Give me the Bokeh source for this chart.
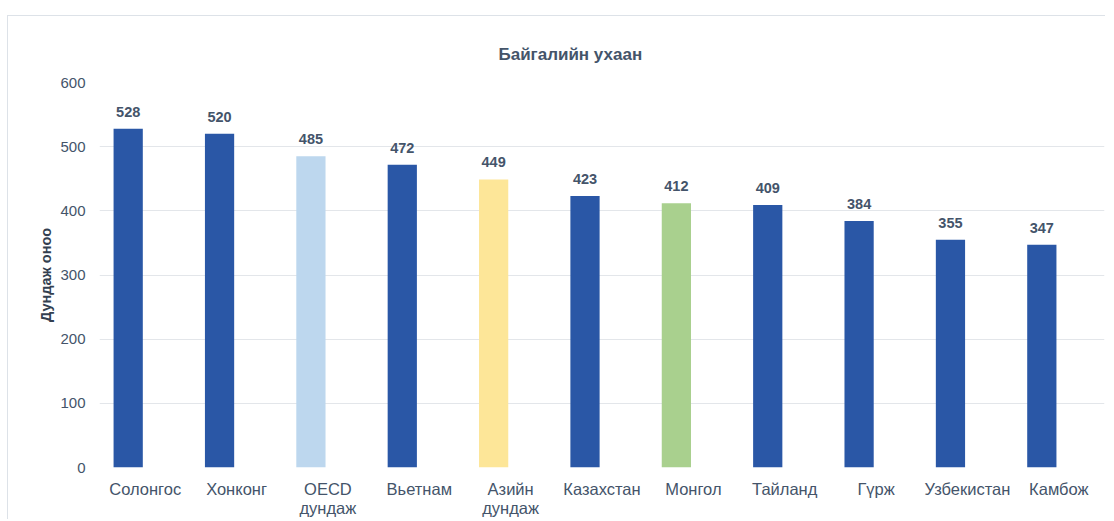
from bokeh.plotting import figure
from bokeh.models import ColumnDataSource, FixedTicker, Range1d
from bokeh.transform import dodge
from bokeh.core.properties import value
from bokeh.embed import file_html
from bokeh.resources import INLINE

categories = ["Солонгос", "Хонконг", "OECD\nдундаж", "Вьетнам", "Азийн\nдундаж",
              "Казахстан", "Монгол", "Тайланд", "Гүрж", "Узбекистан", "Камбож"]
scores = [528, 520, 485, 472, 449, 423, 412, 409, 384, 355, 347]
colors = ["#2a57a6", "#2a57a6", "#bdd7ee", "#2a57a6", "#fde698",
          "#2a57a6", "#a9d08e", "#2a57a6", "#2a57a6", "#2a57a6", "#2a57a6"]
y_ticks = [0, 100, 200, 300, 400, 500, 600]
title_text = "Байгалийн ухаан"
y_title = "Дундаж оноо"

FONT = "Liberation Sans"
TXT = "#44546a"

src = ColumnDataSource(dict(cat=categories, score=scores, color=colors,
                            label=[str(s) for s in scores]))

p = figure(x_range=categories, y_range=Range1d(0, 600),
           width=1098, height=504,
           output_backend="svg", toolbar_location=None,
           min_border_left=91, min_border_right=2, min_border_top=66, min_border_bottom=46)
p.styles = {"border-top": "1px solid #dde2e8", "border-left": "1px solid #dde2e8",
            "margin-top": "15px", "margin-left": "7px"}
p.x_range.range_padding = 0

p.title.text = title_text
p.title.align = "left"
p.title.offset = 399
p.title.vertical_align = "top"
p.title.standoff = 33
p.title.text_font = FONT
p.title.text_font_size = "17px"
p.title.text_font_style = "bold"
p.title.text_color = TXT

xpos = dodge("cat", -0.186, range=p.x_range)
p.vbar(x=xpos, top="score", width=0.32, fill_color="color", line_color=None, source=src)
p.text(x=xpos, y="score", text="label", source=src, text_align="center",
       text_baseline="middle", y_offset=-17, text_font=value(FONT),
       text_font_size="14.5px", text_font_style="bold", text_color=TXT)

p.outline_line_color = None
p.background_fill_color = "white"
p.border_fill_color = "white"
p.xgrid.grid_line_color = None
p.ygrid.grid_line_color = "#e3e6ea"
p.ygrid.grid_line_width = 1

p.yaxis.ticker = FixedTicker(ticks=y_ticks)
for ax in (p.xaxis[0], p.yaxis[0]):
    ax.axis_line_color = None
    ax.major_tick_line_color = None
    ax.minor_tick_line_color = None
    ax.major_label_text_font = FONT
    ax.major_label_text_color = TXT
p.yaxis.major_label_text_font_size = "15px"
p.yaxis.major_label_standoff = 8
p.xaxis.major_label_text_font_size = "16.5px"
p.xaxis.major_label_text_line_height = 1.1
p.xaxis.major_label_standoff = 6
p.yaxis.axis_label = y_title
p.yaxis.axis_label_text_font = FONT
p.yaxis.axis_label_text_font_size = "14.5px"
p.yaxis.axis_label_text_font_style = "bold"
p.yaxis.axis_label_text_color = "#333f50"
p.yaxis.axis_label_standoff = 3

open("out.html", "w").write(file_html(p, INLINE))
